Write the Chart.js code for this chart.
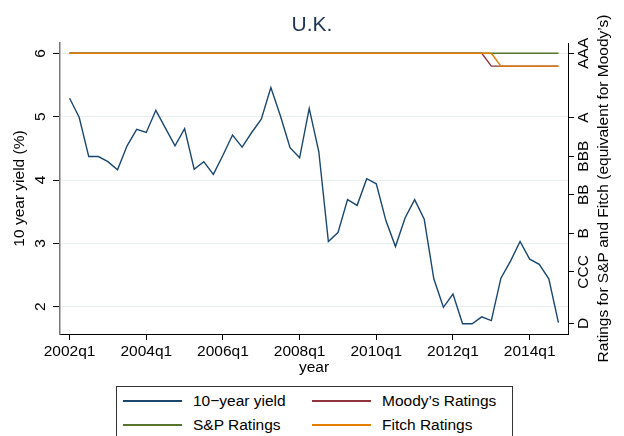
<!DOCTYPE html>
<html>
<head>
<meta charset="utf-8">
<script src="https://cdn.jsdelivr.net/npm/chart.js@4.4.1/dist/chart.umd.min.js"></script>
<style>
  html, body { margin:0; padding:0; background:#fff; overflow:hidden; }
  #wrap { position:relative; width:624px; height:436px; }
  canvas { position:absolute; left:0; top:0; }
  #legend { position:absolute; left:116px; top:386px; width:397px; height:62px; border:1px solid #333; box-sizing:border-box; background:#fff;
    font-family:"Liberation Sans", Arial, sans-serif; font-size:15.5px; color:#000; }
  .sw { position:absolute; height:1.4px; width:59px; }
  .lt { position:absolute; line-height:18px; white-space:nowrap; }
</style>
</head>
<body>
<div id="wrap">
  <canvas id="c" width="624" height="436"></canvas>
  <div id="legend"></div>
</div>
<script>
// ---- data ----
const quarters = ['2002q1','2002q2','2002q3','2002q4','2003q1','2003q2','2003q3','2003q4',
  '2004q1','2004q2','2004q3','2004q4','2005q1','2005q2','2005q3','2005q4',
  '2006q1','2006q2','2006q3','2006q4','2007q1','2007q2','2007q3','2007q4',
  '2008q1','2008q2','2008q3','2008q4','2009q1','2009q2','2009q3','2009q4',
  '2010q1','2010q2','2010q3','2010q4','2011q1','2011q2','2011q3','2011q4',
  '2012q1','2012q2','2012q3','2012q4','2013q1','2013q2','2013q3','2013q4',
  '2014q1','2014q2','2014q3','2014q4'];
const yield10 = [5.29,4.99,4.37,4.37,4.29,4.16,4.54,4.80,4.75,5.10,4.82,4.54,4.81,4.17,4.29,4.09,
  4.39,4.71,4.52,4.75,4.96,5.46,5.01,4.51,4.35,5.13,4.45,3.03,3.17,3.69,3.60,4.02,
  3.94,3.36,2.95,3.40,3.69,3.38,2.44,1.99,2.20,1.73,1.73,1.84,1.78,2.45,2.72,3.03,
  2.75,2.67,2.44,1.75];
const moodys = [21,21,21,21,21,21,21,21,21,21,21,21,21,21,21,21,21,21,21,21,21,21,21,21,
  21,21,21,21,21,21,21,21,21,21,21,21,21,21,21,21,21,21,21,21,20,20,20,20,20,20,20,20];
const sp = [21,21,21,21,21,21,21,21,21,21,21,21,21,21,21,21,21,21,21,21,21,21,21,21,
  21,21,21,21,21,21,21,21,21,21,21,21,21,21,21,21,21,21,21,21,21,21,21,21,21,21,21,21];
const fitch = [21,21,21,21,21,21,21,21,21,21,21,21,21,21,21,21,21,21,21,21,21,21,21,21,
  21,21,21,21,21,21,21,21,21,21,21,21,21,21,21,21,21,21,21,21,21,20,20,20,20,20,20,20];
const xTickQuarters = ['2002q1','2004q1','2006q1','2008q1','2010q1','2012q1','2014q1'];
const yTicks = [2,3,4,5,6];
const ratingLabels = ['D','CCC','B','BB','BBB','A','AAA'];
const ratingValues = [0,4,7,10,13,16,21];
const seriesNames = ['10\u2212year yield','Moody\u2019s Ratings','S&P Ratings','Fitch Ratings'];
const seriesColors = ['#1a476f','#90353b','#55752f','#e37e00'];

const FONT = '"Liberation Sans", Arial, sans-serif';
const pts = arr => arr.map((v,i)=>({x:i, y:v}));

const textPlugin = {
  id:'txt',
  afterDraw(chart){
    const ctx = chart.ctx, yl = chart.scales.y, yr = chart.scales.y2, ca = chart.chartArea;
    ctx.save();
    ctx.fillStyle = '#000';
    ctx.font = '15.5px ' + FONT;
    ctx.textAlign = 'center';
    ctx.textBaseline = 'middle';
    const rot = (txt, x, y) => { ctx.save(); ctx.translate(x,y); ctx.rotate(-Math.PI/2); ctx.fillText(txt,0,0); ctx.restore(); };
    yTicks.forEach(v => rot(String(v), 40.5, yl.getPixelForValue(v)));
    ratingValues.forEach((v,i) => rot(ratingLabels[i], 584, yr.getPixelForValue(v)));
    const cy = (ca.top + ca.bottom)/2;
    rot('10 year yield (%)', 20, cy);
    rot('Ratings for S&P and Fitch (equivalent for Moody\u2019s)', 604, cy);
    ctx.fillText('year', (ca.left+ca.right)/2, 368);
    ctx.restore();
  }
};

const ds = [yield10, moodys, sp, fitch].map((arr,i)=>({
  label: seriesNames[i],
  data: pts(arr),
  yAxisID: i===0 ? 'y' : 'y2',
  borderColor: seriesColors[i],
  backgroundColor: seriesColors[i],
  borderWidth: 1.4,
  pointRadius: 0,
  tension: 0,
  fill: false,
  order: [0,3,2,1][i]
}));

new Chart(document.getElementById('c'), {
  type: 'line',
  data: { datasets: ds },
  options: {
    responsive: false,
    animation: false,
    devicePixelRatio: 1,
    layout: { padding: { left:0, right:0, top:0, bottom:0 } },
    plugins: {
      legend: { display:false },
      tooltip: { enabled:false },
      title: { display:true, text:'U.K.', color:'#1f3556', font:{ family:FONT, size:21, weight:'normal', lineHeight:1.2 }, padding:{ top:13, bottom:4.8 } }
    },
    scales: {
      x: {
        type:'linear', min:-1, max:52,
        afterBuildTicks: s => { s.ticks = xTickQuarters.map(q => ({ value: quarters.indexOf(q) })); },
        ticks: { autoSkip:false, maxRotation:0, minRotation:0, color:'#000', font:{ family:FONT, size:15.5 }, padding:2,
          callback: v => quarters[v] },
        grid: { drawOnChartArea:false, drawTicks:true, tickLength:6, tickColor:'#000', lineWidth:1 },
        border: { display:true, color:'#000', width:1 },
        afterFit: s => { s.height = 102; }
      },
      y: {
        type:'linear', position:'left', min:1.569, max:6.163,
        afterBuildTicks: s => { s.ticks = yTicks.map(v => ({ value:v })); },
        ticks: { display:false },
        grid: { color:'#e6eef0', lineWidth:1, drawTicks:true, tickLength:7, tickColor:'#000' },
        border: { display:true, color:'#777', width:1.5 },
        afterFit: s => { s.width = 60; }
      },
      y2: {
        type:'linear', position:'right', min:-0.83, max:21.8,
        afterBuildTicks: s => { s.ticks = ratingValues.map(v => ({ value:v })); },
        ticks: { display:false },
        grid: { drawOnChartArea:false, drawTicks:true, tickLength:6, tickColor:'#000', lineWidth:1 },
        border: { display:true, color:'#000', width:1 },
        afterFit: s => { s.width = 56; }
      }
    }
  },
  plugins: [textPlugin]
});

// ---- HTML legend ----
const legend = document.getElementById('legend');
const slots = [ {lx:6, tx:76, row:0}, {lx:195, tx:265, row:1-1}, {lx:6, tx:76, row:1}, {lx:195, tx:265, row:1} ];
slots[1].row = 0;
seriesNames.forEach((name,i) => {
  const s = slots[i];
  const cy = 14 + s.row*24;
  const sw = document.createElement('div');
  sw.className = 'sw'; sw.style.left = s.lx+'px'; sw.style.top = (cy-0.7)+'px'; sw.style.background = seriesColors[i];
  legend.appendChild(sw);
  const t = document.createElement('div');
  t.className = 'lt'; t.style.left = s.tx+'px'; t.style.top = (cy-9)+'px'; t.textContent = name;
  legend.appendChild(t);
});
</script>
</body>
</html>
